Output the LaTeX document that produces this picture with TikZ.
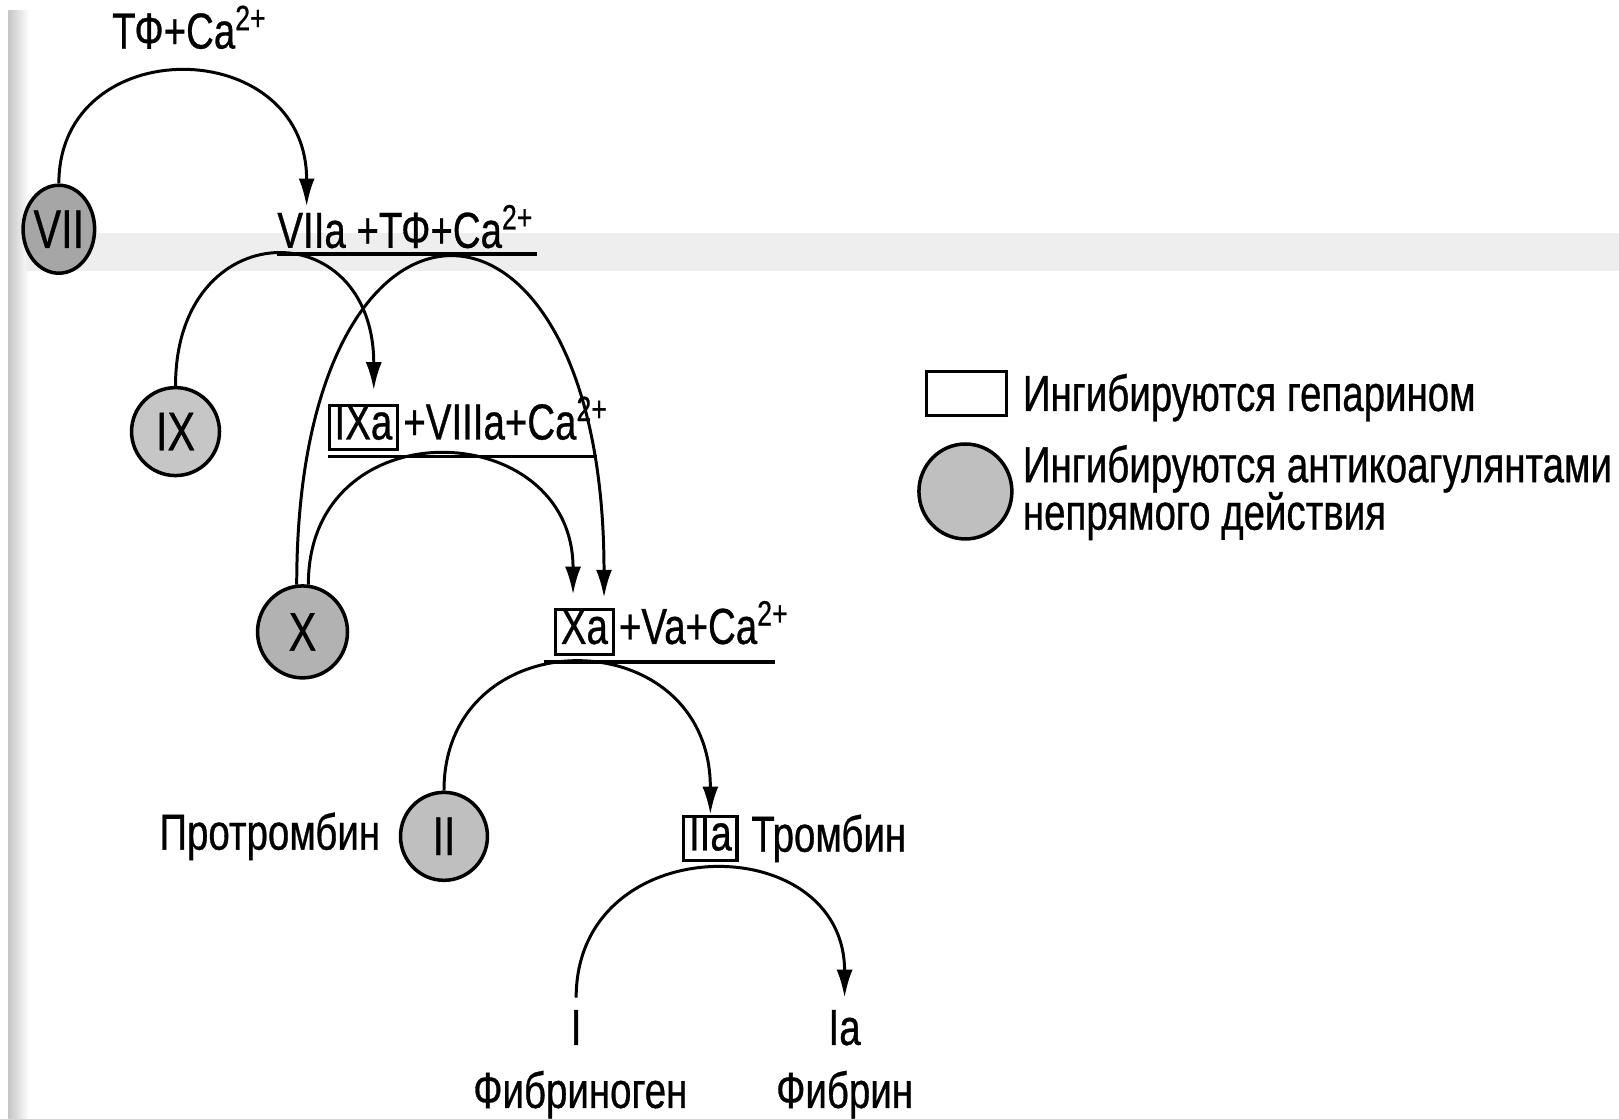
\documentclass[tikz,border=0pt]{standalone}
\usepackage{fontspec}
\setmainfont[FakeStretch=0.76, FakeBold=0.6]{Liberation Sans}
\usetikzlibrary{shapes.geometric, arrows.meta, positioning, calc}

\begin{document}
\begin{tikzpicture}[x=0.010325cm, y=-0.010325cm, >={Latex[length=2.8mm, width=1.6mm]},
    every node/.append style={font=\fontsize{14.4}{17}\selectfont},
    factor/.style={ellipse, draw, line width=1pt, inner sep=0pt, font=\fontsize{15.5}{17}\selectfont},
    heparin/.style={draw, line width=0.9pt, inner xsep=1.5pt, inner ysep=1.5pt, text height=2.9mm, text depth=0.5mm},
    plain/.style={inner sep=0pt},
    react/.style={->, line width=0.85pt}]
    % paper
    \fill[white] (0,0) rectangle (1568,1083);
    \useasboundingbox (0,0) rectangle (1568,1083);
    \shade[left color=gray!45, right color=white] (8,10) rectangle (28,1083);
    \fill[gray!13] (25,226) rectangle (1568,262);

    \node[plain, anchor=base west] (tf) at (108,47) {ТФ+Ca\textsuperscript{2+}};
    \node[factor, fill=gray!70, minimum width=0.68cm, minimum height=0.88cm] (VII) at (57,222) {VII};
    \node[plain, anchor=base west] (c7) at (268,240) {VIIa +ТФ+Ca\textsuperscript{2+}};
    \draw[line width=0.9pt] ($(c7.base west)+(0,6)$) -- ($(c7.base east)+(2,6)$);

    \node[factor, fill=gray!45, minimum width=0.88cm, minimum height=0.88cm] (IX) at (170,418) {IX};
    \node[heparin] (IXa) at (352,414) {IXa};
    \node[plain, anchor=base west, xshift=1pt] (c9) at (IXa.base east) {+VIIIa+Ca\textsuperscript{2+}};
    \draw[line width=0.9pt] ([yshift=-1.5pt]IXa.south west) -- ($([yshift=-1.5pt]IXa.south west -| c9.east)+(-12,0)$);

    \node[factor, fill=gray!60, minimum width=0.9cm, minimum height=0.92cm] (X) at (293,612) {X};
    \node[heparin] (Xa) at (566,612) {Xa};
    \node[plain, anchor=base west, xshift=1pt] (c10) at (Xa.base east) {+Va+Ca\textsuperscript{2+}};
    \draw[line width=0.9pt] ($(Xa.south west)+(-10,6)$) -- ($(Xa.south west -| c10.east)+(-15,6)$);

    \node[factor, fill=gray!50, minimum width=0.87cm, minimum height=0.88cm] (II) at (430,810) {II};
    \node[plain, left=0.18cm of II] (pro) {Протромбин};
    \node[heparin] (IIa) at (688,812) {IIa};
    \node[plain, right=0.12cm of IIa] (thr) {Тромбин};

    \node[anchor=base] (I) at (558,1012) {I};
    \node[anchor=base] (Ia) at (818,1012) {Ia};
    \node[plain, anchor=base] (fgen) at (562,1073) {Фибриноген};
    \node[plain, anchor=base] (fbr) at (818,1073) {Фибрин};

    % legend
    \node[draw, line width=1pt, minimum width=0.8cm, minimum height=0.44cm] (legbox) at (936,381) {};
    \node[plain, anchor=base west] (leg1) at (990,398) {Ингибируются гепарином};
    \node[factor, fill=gray!50, minimum width=0.93cm, minimum height=0.95cm] (legcirc) at (935,476) {};
    \node[plain, anchor=base west] (leg2) at (990,467) {Ингибируются антикоагулянтами};
    \node[plain, anchor=base west] (leg3) at (990,513) {непрямого действия};

    \draw[react] (VII.north) .. controls +(0,-148) and +(0,-168) .. ($(c7.base west)+(29,-40)$);
    \draw[react] (IX.north) .. controls +(0,-168) and +(0,-173) .. ($(IXa.north)+(10,-13)$);
    \draw[react] (X.97) .. controls +(0,-425) and +(0,-433) .. ($(Xa.north)+(19,-10)$);
    \draw[react] (X.83) .. controls +(0,-173) and +(0,-173) .. ($(Xa.north)+(-11,-13)$);
    \draw[react] (II.north) .. controls +(0,-168) and +(0,-190) .. (IIa.north);
    \draw[react] (I.north) .. controls +(0,-165) and +(0,-165) .. (Ia.north);
\end{tikzpicture}
\end{document}
